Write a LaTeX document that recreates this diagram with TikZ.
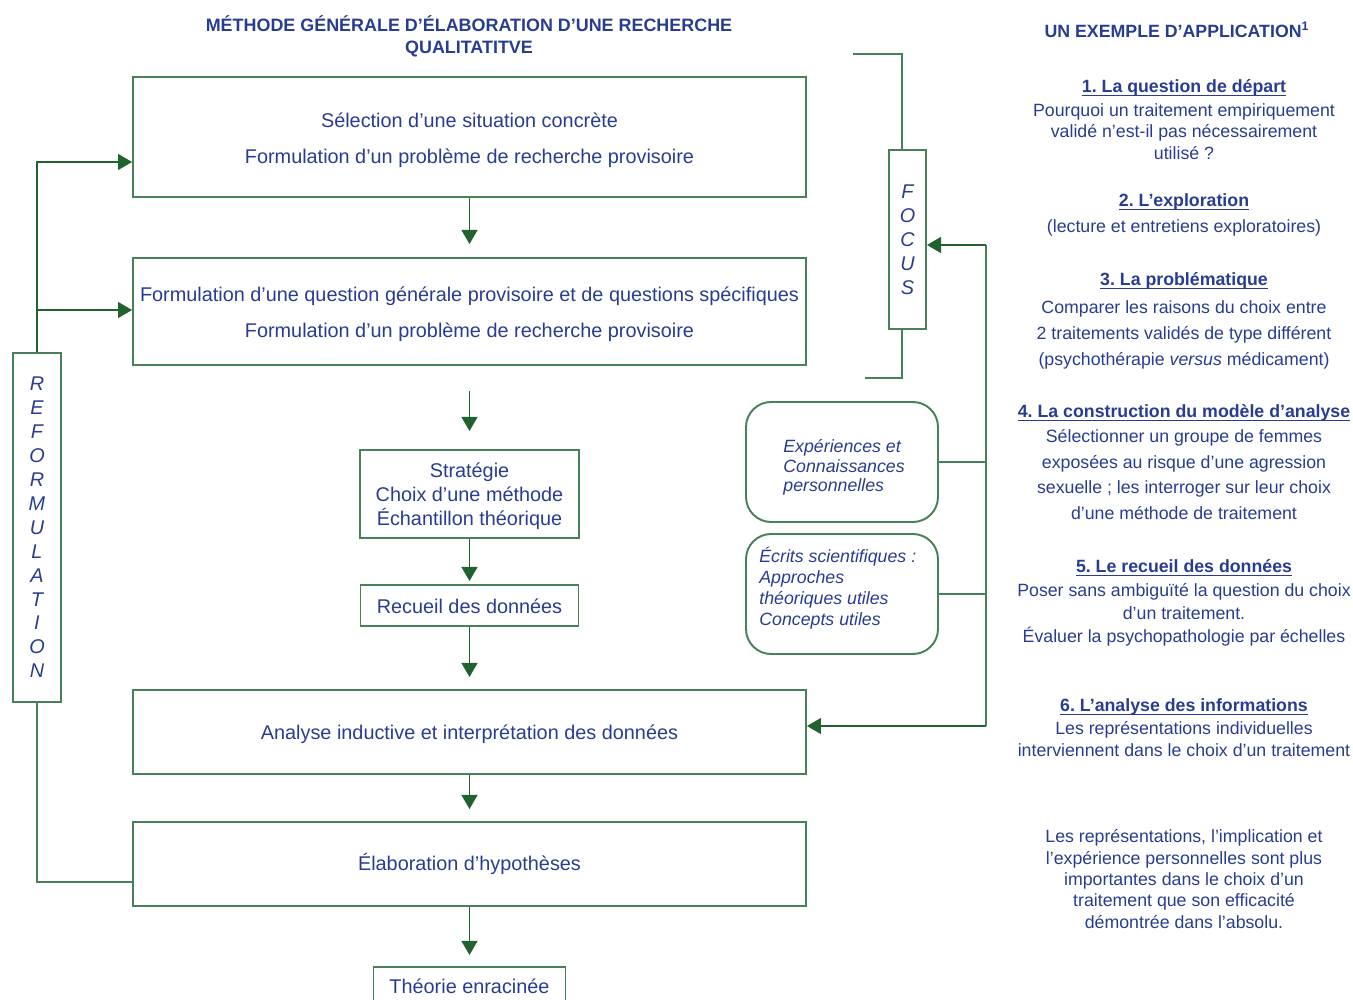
\documentclass[tikz,border=0pt]{standalone}
\usepackage{fontspec}
\setmainfont{Liberation Sans}
\frenchspacing
\usetikzlibrary{positioning,calc,arrows.meta}
\definecolor{txtblue}{RGB}{40,60,145}
\definecolor{boxgreen}{RGB}{72,128,88}
\definecolor{flowgreen}{RGB}{32,98,48}
\newcommand\pad[1]{\rule{0pt}{#1}}
\newsavebox\headbox
\newcommand\headul[1]{\sbox\headbox{#1}\rlap{\rule[-2.2pt]{\wd\headbox}{0.6pt}}\usebox\headbox}
\tikzset{
stepbox/.style={draw=boxgreen,line width=1.1pt,align=center,inner sep=0pt,font=\fontsize{11.3}{20.4}\selectfont},
smallbox/.style={stepbox,font=\fontsize{11.3}{13.6}\selectfont},
stripbox/.style={draw=boxgreen,line width=1.1pt,align=center,inner sep=0pt,font=\fontsize{11.3}{13.6}\selectfont\itshape},
roundbox/.style={draw=boxgreen,line width=1.1pt,rounded corners=0.5cm,minimum width=3.84cm,minimum height=2.4cm},
sidetext/.style={align=left,inner sep=0pt,font=\fontsize{10.1}{11.2}\selectfont\itshape},
maintitle/.style={align=center,inner sep=0pt,font=\fontsize{10.2}{12.5}\selectfont\bfseries},
headline/.style={align=center,inner sep=0pt,font=\fontsize{10.1}{12.5}\selectfont\bfseries},
bodytext/.style={align=center,inner sep=0pt,font=\fontsize{10.1}{#1}\selectfont},
bodytext/.default=12.4pt,
link/.style={draw=boxgreen,line width=1.1pt},
flow/.style={draw=flowgreen,line width=1.1pt,-{Triangle[length=8pt,width=9pt]}}
}
\begin{document}
\begin{tikzpicture}[x=0.02cm,y=-0.02cm,every node/.style={text=txtblue}]
\useasboundingbox (0,0) rectangle (1353,1000);
% titles
\node[maintitle] (title) at (469,36) {MÉTHODE GÉNÉRALE D’ÉLABORATION D’UNE RECHERCHE\\QUALITATITVE};
\node[headline] (apptitle) at (1177,30) {UN EXEMPLE D’APPLICATION\textsuperscript{1}};
% main column
\node[stepbox,minimum width=13.46cm,minimum height=2.4cm] (sel) at (469.5,137) {\pad{11.7pt}Sélection d’une situation concrète\\Formulation d’un problème de recherche provisoire};
\node[stepbox,minimum width=13.46cm,minimum height=2.14cm] (quest) at (469.5,311.5) {\pad{11.7pt}Formulation d’une question générale provisoire et de questions spécifiques\\Formulation d’un problème de recherche provisoire};
\node[smallbox,minimum width=4.38cm,minimum height=1.76cm] (strat) at (469.5,494) {\pad{10.6pt}Stratégie\\Choix d’une méthode\\Échantillon théorique};
\node[smallbox,minimum width=4.36cm,minimum height=0.82cm] (rec) at (469.5,605.5) {\pad{9.4pt}Recueil des données};
\node[stepbox,minimum width=13.46cm,minimum height=1.68cm] (ana) at (469.5,732) {\pad{10.6pt}Analyse inductive et interprétation des données};
\node[stepbox,minimum width=13.46cm,minimum height=1.68cm] (elab) at (469.5,864) {Élaboration d’hypothèses};
\node[smallbox,minimum width=3.84cm,minimum height=0.76cm,anchor=north] (theo) at (469.5,966) {Théorie enracinée};
\draw[flow,shorten >=0.26cm] (sel.south) -- (quest.north);
\draw[flow,shorten <=0.5cm,shorten >=0.36cm] (quest.south) -- (strat.north);
\draw[flow,shorten >=0.06cm] (strat.south) -- (rec.north);
\draw[flow,shorten >=0.24cm] (rec.south) -- (ana.north);
\draw[flow,shorten >=0.24cm] (ana.south) -- (elab.north);
\draw[flow,shorten >=0.22cm] (elab.south) -- (theo.north);
% reformulation loop
\node[stripbox,minimum width=0.96cm,minimum height=6.98cm] (reform) at (37,527.5) {R\\E\\F\\O\\R\\M\\U\\L\\A\\T\\I\\O\\N};
\draw[flow] (reform.north) |- ($(sel.west)+(0,25)$);
\draw[flow] (reform.north |- 0,310) -- ($(quest.west)+(0,-1.5)$);
\draw[link] (reform.south) |- ($(elab.west)+(0,18)$);
% focus bracket
\node[stripbox,minimum width=0.74cm,minimum height=3.58cm] (focus) at (907.5,239.5) {F\\O\\C\\U\\S};
\coordinate (ftop) at (853,54);
\coordinate (fbot) at (865,378);
\draw[link] ([xshift=-0.11cm]focus.north) |- (ftop);
\draw[link] ([xshift=-0.11cm]focus.south) |- (fbot);
% sources
\node[roundbox] (exp) at (842,462) {};
\node[roundbox] (ecr) at (842,594) {};
\node[sidetext,anchor=west] (exptxt) at ($(exp.west)+(38,5.5)$) {Expériences et\\Connaissances\\personnelles};
\node[sidetext,anchor=west,font=\fontsize{10.1}{12}\selectfont\itshape] (ecrtxt) at ($(ecr.west)+(14,-6)$) {Écrits scientifiques :\\Approches\\théoriques utiles\\Concepts utiles};
\coordinate (railtop) at (986,245);
\coordinate (railbot) at (986,726);
\draw[link] (railtop) -- (railbot);
\draw[link] (exp.east) -- (exp.east -| railtop);
\draw[link] (ecr.east) -- (ecr.east -| railtop);
\draw[flow] (railtop) -- (railtop -| focus.east);
\draw[flow] (railbot) -- (railbot -| ana.east);
% example column
\node[headline] (h1) at (1184,88) {\headul{1. La question de départ}};
\node[bodytext=12.2pt] (b1) at (1184,131.5) {Pourquoi un traitement empiriquement\\validé n’est-il pas nécessairement\\utilisé ?};
\node[headline] (h2) at (1184,202) {\headul{2. L’exploration}};
\node[bodytext] (b2) at (1184,228) {(lecture et entretiens exploratoires)};
\node[headline] (h3) at (1184,281) {\headul{3. La problématique}};
\node[bodytext=14.7pt] (b3) at (1184,335) {Comparer les raisons du choix entre\\2 traitements validés de type différent\\(psychothérapie \textit{versus} médicament)};
\node[headline] (h4) at (1184,413) {\headul{4. La construction du modèle d’analyse}};
\node[bodytext=14.6pt] (b4) at (1184,474.5) {Sélectionner un groupe de femmes\\exposées au risque d’une agression\\sexuelle ; les interroger sur leur choix\\d’une méthode de traitement};
\node[headline] (h5) at (1184,568) {\headul{5. Le recueil des données}};
\node[bodytext=13pt] (b5) at (1184,615) {Poser sans ambiguïté la question du choix\\d’un traitement.\\Évaluer la psychopathologie par échelles};
\node[headline] (h6) at (1184,707) {\headul{6. L’analyse des informations}};
\node[bodytext=12.5pt] (b6) at (1184,739) {Les représentations individuelles\\interviennent dans le choix d’un traitement};
\node[bodytext=12.2pt] (concl) at (1184,879) {Les représentations, l’implication et\\l’expérience personnelles sont plus\\importantes dans le choix d’un\\traitement que son efficacité\\démontrée dans l’absolu.};
\end{tikzpicture}
\end{document}
